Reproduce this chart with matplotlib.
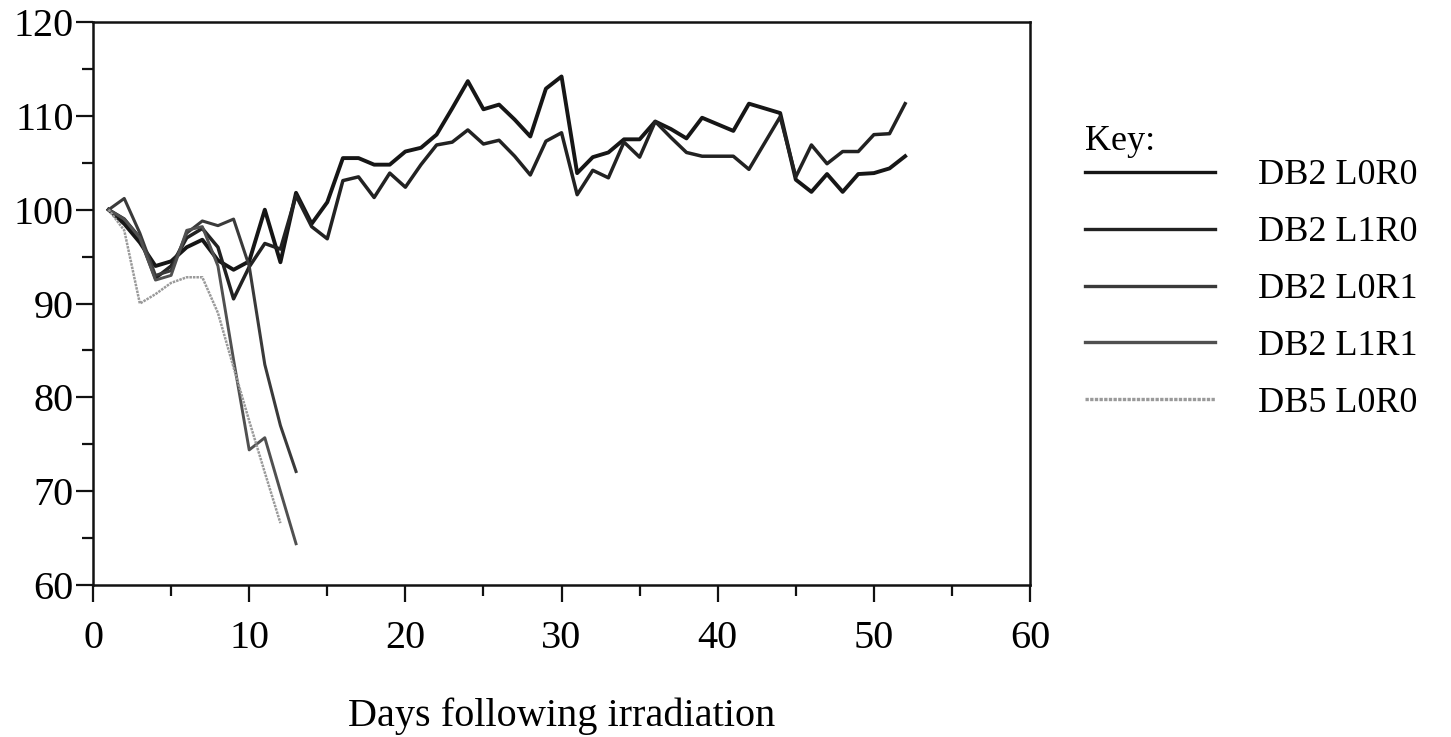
import matplotlib
matplotlib.use("Agg")
import matplotlib.pyplot as plt
from matplotlib.ticker import MultipleLocator

plt.rcParams['font.family'] = ['Liberation Serif', 'DejaVu Serif']

# days after irradiation
days_long = list(range(1, 53))
days_short = list(range(1, 14))
days_db5 = list(range(1, 13))

db2_l0r0 = [100, 98.5, 96.5, 94.0, 94.5, 96.0, 96.8, 94.6, 93.6, 94.5,
            100.0, 94.4, 101.8, 98.5, 100.8, 105.5, 105.5, 104.8, 104.8, 106.2,
            106.6, 108.0, 110.8, 113.7, 110.7, 111.2, 109.6, 107.8, 112.9, 114.2,
            103.9, 105.6, 106.1, 107.5, 107.5, 109.4, 108.6, 107.6, 109.8, 109.1,
            108.4, 111.3, 110.8, 110.3, 103.2, 101.9, 103.8, 101.9, 103.8, 103.9,
            104.4, 105.7]
db2_l1r0 = [100, 99.0, 97.0, 92.7, 94.0, 97.0, 98.0, 96.0, 90.5, 93.9,
            96.4, 95.8, 101.5, 98.2, 96.9, 103.1, 103.5, 101.3, 103.9, 102.4,
            104.8, 106.9, 107.2, 108.5, 107.0, 107.4, 105.7, 103.7, 107.3, 108.2,
            101.6, 104.2, 103.4, 107.2, 105.6, 109.4, 107.7, 106.1, 105.7, 105.7,
            105.7, 104.3, 107.1, 109.9, 103.5, 106.9, 104.9, 106.2, 106.2, 108.0,
            108.1, 111.3]
db2_l0r1 = [100, 101.2, 97.5, 93.0, 93.5, 97.5, 98.8, 98.3, 99.0, 94.0, 83.5, 77.0, 72.1]
db2_l1r1 = [100, 99.0, 97.0, 92.5, 93.0, 97.8, 98.2, 94.0, 84.0, 74.4, 75.7, 70.0, 64.4]
db5_l0r0 = [100, 97.8, 90.0, 91.0, 92.2, 92.8, 92.8, 89.0, 83.2, 77.5, 72.0, 66.6]

labels = ['DB2 L0R0', 'DB2 L1R0', 'DB2 L0R1', 'DB2 L1R1', 'DB5 L0R0']

fig = plt.figure(figsize=(14.51, 7.37), dpi=100)
ax = fig.add_axes([0.0641, 0.2062, 0.6458, 0.7639])

ax.plot(days_long, db2_l0r0, color='#161616', lw=2.8, label=labels[0])
ax.plot(days_long, db2_l1r0, color='#222222', lw=2.5, label=labels[1])
ax.plot(days_short, db2_l0r1, color='#3a3a3a', lw=2.2, label=labels[2])
ax.plot(days_short, db2_l1r1, color='#505050', lw=2.1, label=labels[3])
ax.plot(days_db5, db5_l0r0, color='#9a9a9a', lw=1.8, ls=(0, (1, 0.4)), label=labels[4])

ax.set_xlim(0, 60)
ax.set_ylim(60, 120)
ax.xaxis.set_major_locator(MultipleLocator(10))
ax.xaxis.set_minor_locator(MultipleLocator(5))
ax.yaxis.set_major_locator(MultipleLocator(10))
ax.yaxis.set_minor_locator(MultipleLocator(5))

for s in ax.spines.values():
    s.set_linewidth(1.8)
    s.set_color('#111111')

ax.tick_params(axis='both', which='major', direction='out', length=12, width=1.6,
               labelsize=29, color='#111111')
ax.tick_params(axis='both', which='minor', direction='out', length=8, width=1.6,
               color='#111111')
ax.tick_params(axis='x', which='major', pad=13)
ax.tick_params(axis='y', which='major', pad=2)

ax.set_xlabel('Days following irradiation', fontsize=29, labelpad=29)

fig.text(0.748, 1 - 142 / 737, 'Key:', fontsize=26, ha='left', va='center')
leg = fig.legend(loc='upper left', bbox_to_anchor=(0.7475, 1 - 159 / 737), frameon=False,
                 fontsize=26, handlelength=3.6, handletextpad=1.19, labelspacing=0.655,
                 borderaxespad=0, borderpad=0)
for h in leg.get_lines():
    h.set_linewidth(2.4)

fig.savefig('out.png', dpi=100, facecolor='white')
